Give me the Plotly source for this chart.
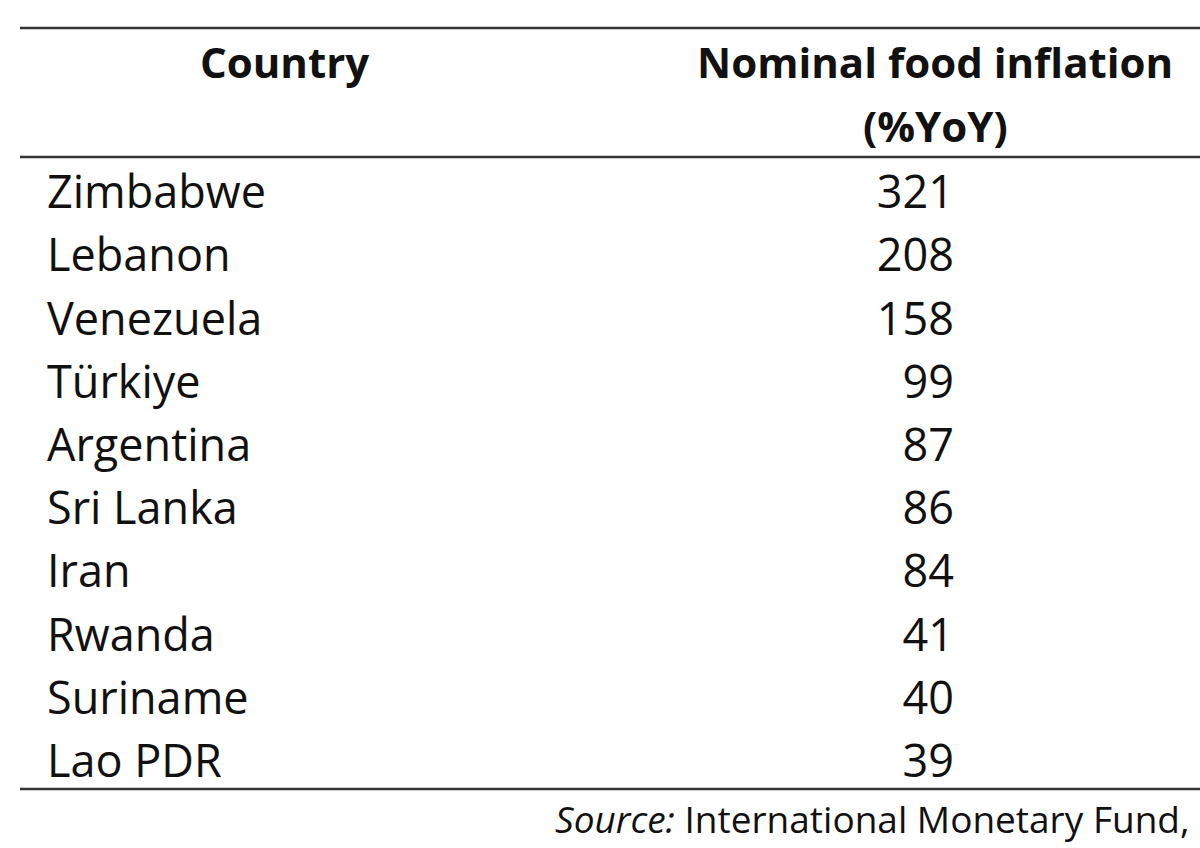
"""Top food inflation table (IMF)."""

import plotly.graph_objects as go

COUNTRIES = [
    "Zimbabwe", "Lebanon", "Venezuela", "Türkiye", "Argentina",
    "Sri Lanka", "Iran", "Rwanda", "Suriname", "Lao PDR",
]
FOOD_INFLATION = [321, 208, 158, 99, 87, 86, 84, 41, 40, 39]

HEADER_COUNTRY = "Country"
HEADER_VALUE = ["Nominal food inflation", "(%YoY)"]
SOURCE_ITALIC = "Source:"
SOURCE_TEXT = "International Monetary Fund,"

W, H = 1200, 848
ROW0_PX = 197   # first body row (text renders a few px above its anchor)
ROW_PX = 63.2   # row pitch
FONT = "Open Sans"
INK = "#111111"
RULE = "#333333"


def px_to_row(p):
    return (p - ROW0_PX) / ROW_PX


rows = list(range(len(COUNTRIES)))

fig = go.Figure()
fig.add_trace(
    go.Scatter(
        x=[47] * len(COUNTRIES),
        y=rows,
        text=COUNTRIES,
        mode="text",
        textposition="middle right",
        textfont=dict(family=FONT, size=45, color=INK),
        hoverinfo="skip",
        showlegend=False,
    )
)
fig.add_trace(
    go.Scatter(
        x=[954] * len(FOOD_INFLATION),
        y=rows,
        text=[f"{v}" for v in FOOD_INFLATION],
        mode="text",
        textposition="middle left",
        textfont=dict(family=FONT, size=45, color=INK),
        hoverinfo="skip",
        showlegend=False,
    )
)

bold = dict(family=FONT, size=42, color=INK, weight="bold")
fig.add_annotation(x=284, y=px_to_row(61), text=f"<b>{HEADER_COUNTRY}</b>",
                   showarrow=False, font=bold, xanchor="center", yanchor="middle")
for line, ypx in zip(HEADER_VALUE, [61, 125]):
    fig.add_annotation(x=935, y=px_to_row(ypx), text=f"<b>{line}</b>",
                       showarrow=False, font=bold, xanchor="center", yanchor="middle")

fig.add_annotation(
    x=1192, y=px_to_row(818),
    text=f"<i>{SOURCE_ITALIC}</i> {SOURCE_TEXT}",
    showarrow=False, xanchor="right", yanchor="middle",
    font=dict(family=FONT, size=37, color=INK),
)

for ypx in [28, 157, 789]:
    fig.add_shape(type="line", x0=20, x1=1200, y0=px_to_row(ypx), y1=px_to_row(ypx),
                  xref="x", yref="y", line=dict(color=RULE, width=2.5))

fig.update_layout(
    width=W,
    height=H,
    margin=dict(l=0, r=0, t=0, b=0),
    paper_bgcolor="white",
    plot_bgcolor="white",
    xaxis=dict(range=[0, W], visible=False, fixedrange=True),
    yaxis=dict(range=[px_to_row(H), px_to_row(0)], visible=False, fixedrange=True),
)

fig.write_html(
    "out.html",
    config={"displayModeBar": False},
    post_script="document.body.style.margin='0px';document.body.style.overflow='hidden';",
)
